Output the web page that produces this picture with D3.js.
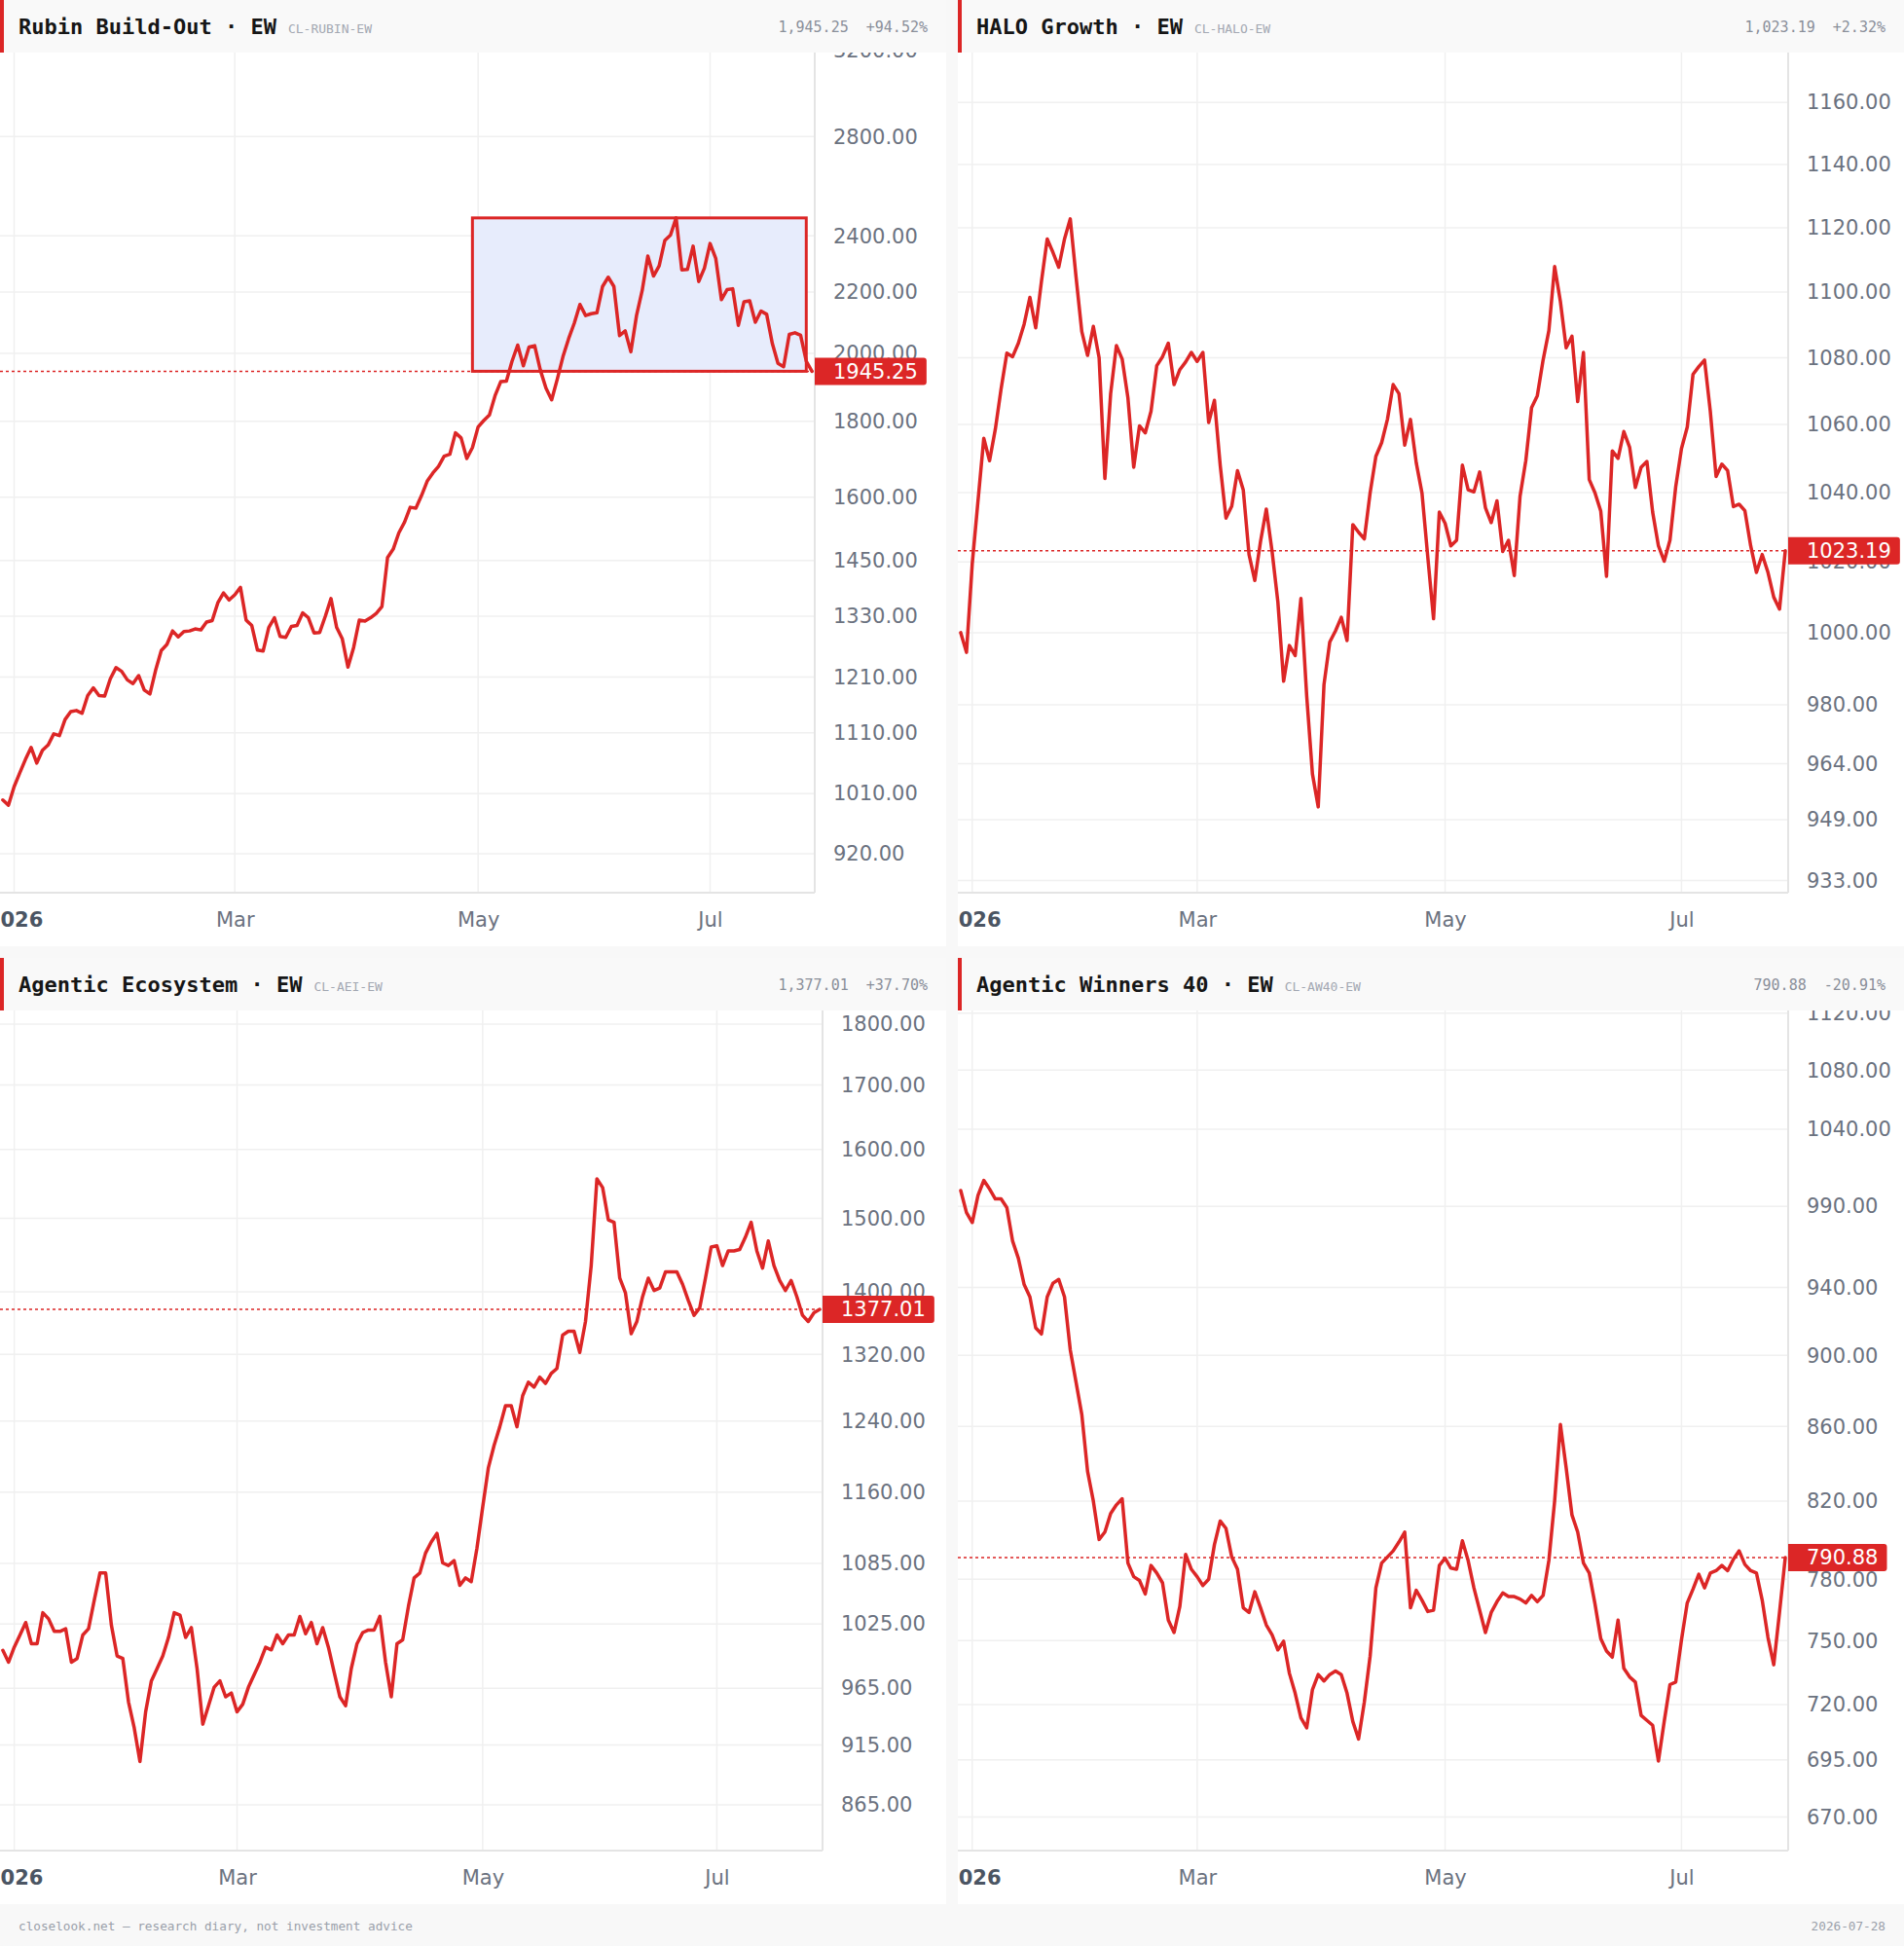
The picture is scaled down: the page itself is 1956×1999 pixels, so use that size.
<!DOCTYPE html>
<html>
<head>
<meta charset="utf-8">
<script src="https://cdn.jsdelivr.net/npm/d3@7"></script>
<style>
  body { margin: 0; background: #f8f8f8; }
  svg { display: block; }
</style>
</head>
<body>
<script>
// Month labels on the time axis and the session index where each month starts
var monthLabels = ["2026", "Mar", "May", "Jul"];
var monthIndex = [2, 41, 84, 125];

// Daily closes, one per session (Dec 30 2025 .. Jul 28 2026)
var rubinValues = [1000,992,1021,1043,1065,1085,1059,1080,1089,1108,
  1105,1133,1147,1149,1144,1176,1190,1176,1175,1207,
  1228,1221,1205,1198,1213,1186,1179,1223,1261,1273,
  1300,1288,1299,1300,1304,1302,1318,1321,1358,1379,
  1364,1375,1391,1322,1311,1262,1260,1307,1327,1289,
  1287,1309,1311,1337,1327,1296,1297,1330,1367,1307,
  1284,1229,1267,1322,1320,1327,1336,1350,1457,1476,
  1514,1539,1575,1573,1604,1640,1661,1678,1705,1710,
  1768,1754,1699,1728,1784,1802,1818,1873,1914,1916,
  1976,2026,1962,2020,2024,1949,1895,1861,1922,1990,
  2046,2096,2158,2121,2127,2130,2219,2251,2219,2056,
  2071,2005,2121,2205,2326,2255,2291,2383,2403,2468,
  2277,2278,2362,2236,2283,2372,2318,2174,2208,2211,
  2089,2167,2170,2099,2136,2125,2031,1969,1959,2060,
  2065,2057,1976,1945.25];

var haloValues = [1000,994.5,1019.5,1037.6,1055.9,1049.3,1058.6,1070.6,1081.4,1080.3,
  1084.4,1090.2,1098.4,1089.1,1103.3,1116.5,1112.3,1107.7,1116.5,1122.8,
  1104.7,1087.9,1080.7,1089.5,1080.0,1044.1,1069.2,1083.7,1079.6,1067.9,
  1047.4,1059.6,1057.5,1063.9,1077.6,1080.3,1084.4,1071.9,1076.4,1078.7,
  1081.6,1078.9,1081.6,1060.6,1067.2,1048.0,1032.6,1036.0,1046.4,1040.8,
  1022.1,1014.7,1025.9,1035.2,1023.0,1008.7,986.5,996.4,993.6,1009.6,
  982.5,961.2,952.4,985.6,997.4,1000.5,1004.3,997.8,1030.7,1028.5,
  1026.6,1039.9,1050.6,1054.6,1061.5,1071.9,1069.2,1053.9,1061.5,1048.7,
  1039.8,1021.4,1003.9,1034.3,1031.1,1024.6,1026.2,1048.0,1040.8,1040.2,
  1046.0,1035.6,1031.3,1037.6,1023.0,1026.2,1016.1,1038.9,1049.3,1065.0,
  1068.6,1079.3,1088.2,1107.9,1097.1,1083.0,1086.5,1066.8,1081.6,1043.8,
  1039.9,1034.6,1015.9,1052.2,1050.0,1057.9,1053.3,1041.5,1047.4,1049.1,
  1034.3,1024.6,1020.2,1026.2,1041.7,1052.9,1059.2,1075.0,1077.3,1079.3,
  1063.9,1044.7,1048.3,1046.4,1035.9,1036.6,1034.7,1024.6,1017.0,1022.1,
  1017.0,1010.0,1006.6,1023.19];

var aeiValues = [1000,988.9,1003,1014.5,1026.4,1006.2,1006.2,1035.9,1030,1017.9,
  1017.9,1020.4,988.9,992.3,1014.5,1020.4,1048,1075.2,1075.2,1023.9,
  994.7,992.3,952.7,929.7,900.9,943.9,971.7,983,994.7,1012.1,
  1035.9,1033.6,1012.1,1021.5,983,933,949.3,966,971.7,957.3,
  960.7,943.9,950.6,966,977.4,988.9,1002.8,1000.4,1014.5,1006.2,
  1014.5,1014.5,1032.3,1015.6,1026.4,1006.2,1021.5,1002.8,979.6,957.3,
  949.3,983,1006.2,1016.8,1019.2,1019.2,1032.3,988.9,957.3,1006.2,
  1009.8,1042,1070.3,1075.2,1095.5,1107,1116,1085.4,1082.8,1087.7,
  1062.8,1070.3,1066.5,1100.6,1143.7,1187,1212,1233.4,1258,1258,
  1233.4,1269.8,1286.1,1280.2,1292.2,1284.7,1296.7,1302.7,1344.2,1349,
  1349,1322.6,1361.5,1434.8,1556.5,1543.9,1497.8,1494.4,1418,1398.4,
  1345.9,1361.5,1393.6,1418,1401.7,1404.9,1426.3,1426.3,1426.3,1409.9,
  1388.7,1369.4,1379,1418,1460,1461.8,1434.8,1454.8,1454.8,1456.6,
  1473.7,1494.4,1454.8,1431.4,1468.4,1434.8,1414.8,1401.7,1414.8,1393.6,
  1369.4,1361.5,1372.7,1377.01];

var aw40Values = [1000,986,979.8,997,1006.5,1001,994.7,994.7,989.2,968.2,
  957.6,941.7,934.3,916,912.4,934.3,942.5,944.8,934.3,903.1,
  884.7,866.6,835.7,820,800.1,803.9,813.5,818,821.2,788.1,
  781.3,779.4,772.7,786.9,783.1,778.2,759.9,753.9,766.6,792.5,
  785,781.3,776.9,780,797.5,809.6,805.8,791.2,785,765.9,
  763.6,773.8,765.9,757.5,752.8,745.6,749.7,734.5,725.2,713.9,
  709.3,726.9,733.9,730.9,733.9,735.6,733.9,725.2,712.2,704.3,
  721.2,742.6,775.7,788.1,791.2,794.3,798.8,803.9,765.9,774.5,
  769.6,764.1,764.7,786.9,790.6,785.6,785,799.4,789.4,775.7,
  764.7,753.9,763.6,768.9,773.2,771.4,771.4,770.2,768.3,772,
  768.9,772,789.4,820,861.1,837.6,812.8,803.9,788.1,783.1,
  767.8,751,745,742.1,759.9,736.8,732.8,730.4,715,712.7,
  710.5,694.4,712.2,729.2,730.4,750.4,768.3,775.1,782.5,775.7,
  783.1,784.3,786.9,784.3,790,794.3,787.4,784.3,783.1,769.6,
  751.5,738.5,763.6,790.88];

// Price-scale tick labels of each panel
var rubinTicks = [920, 1010, 1110, 1210, 1330, 1450, 1600, 1800, 2000, 2200, 2400, 2800, 3200];
var haloTicks = [933, 949, 964, 980, 1000, 1020, 1040, 1060, 1080, 1100, 1120, 1140, 1160];
var aeiTicks = [865, 915, 965, 1025, 1085, 1160, 1240, 1320, 1400, 1500, 1600, 1700, 1800];
var aw40Ticks = [670, 695, 720, 750, 780, 820, 860, 900, 940, 990, 1040, 1080, 1120];

// Visible price range of each (log) scale
var rubinDomain = [866, 3190];
var haloDomain = [929.8, 1176.3];
var aeiDomain = [828.6, 1823];
var aw40Domain = [655.8, 1122];

// Highlighted range on the Rubin chart (session indexes)
var rubinBoxFrom = 83;
var rubinBoxTo = 142;

// Layout
var pageWidth = 1956;
var pageHeight = 1999;
var panelSize = 972;
var panelGap = 12;
var headerHeight = 54;
var plotTop = 54;
var plotBottom = 917;
var red = "#dc2626";
var labelFont = "'DejaVu Sans', sans-serif";
var monoFont = "'DejaVu Sans Mono', monospace";
var barCount = rubinValues.length;

var panels = [
  { title: "Rubin Build-Out \u00b7 EW", code: "CL-RUBIN-EW", stat: "1,945.25  +94.52%",
    values: rubinValues, ticks: rubinTicks, domain: rubinDomain, plotWidth: 837, col: 0, row: 0, box: true },
  { title: "HALO Growth \u00b7 EW", code: "CL-HALO-EW", stat: "1,023.19  +2.32%",
    values: haloValues, ticks: haloTicks, domain: haloDomain, plotWidth: 853, col: 1, row: 0 },
  { title: "Agentic Ecosystem \u00b7 EW", code: "CL-AEI-EW", stat: "1,377.01  +37.70%",
    values: aeiValues, ticks: aeiTicks, domain: aeiDomain, plotWidth: 845, col: 0, row: 1 },
  { title: "Agentic Winners 40 \u00b7 EW", code: "CL-AW40-EW", stat: "790.88  -20.91%",
    values: aw40Values, ticks: aw40Ticks, domain: aw40Domain, plotWidth: 853, col: 1, row: 1 }
];

var svg = d3.select("body")
  .append("svg")
  .attr("width", pageWidth)
  .attr("height", pageHeight);

svg.append("rect")
  .attr("width", pageWidth)
  .attr("height", pageHeight)
  .attr("fill", "#f8f8f8");

function drawPanel(p, k) {
  var g = svg.append("g")
    .attr("transform", `translate(${p.col * (panelSize + panelGap)}, ${p.row * (panelSize + panelGap)})`);

  // white chart body
  g.append("rect")
    .attr("y", headerHeight)
    .attr("width", panelSize)
    .attr("height", panelSize - headerHeight)
    .attr("fill", "#fff");

  // header strip
  g.append("rect")
    .attr("width", panelSize)
    .attr("height", headerHeight)
    .attr("fill", "#f9f9f9");
  g.append("rect")
    .attr("width", 4)
    .attr("height", headerHeight)
    .attr("fill", red);

  var title = g.append("text")
    .attr("x", 19)
    .attr("y", 35)
    .attr("font-family", monoFont)
    .attr("font-size", 22)
    .attr("font-weight", 600)
    .attr("fill", "#161616")
    .text(p.title);
  var tw = title.node().getComputedTextLength();

  g.append("text")
    .attr("x", 19 + tw + 12)
    .attr("y", 34)
    .attr("font-family", monoFont)
    .attr("font-size", 13)
    .attr("fill", "#a3a8b2")
    .text(p.code);

  g.append("text")
    .attr("x", 953)
    .attr("y", 33)
    .attr("text-anchor", "end")
    .attr("font-family", monoFont)
    .attr("font-size", 15)
    .attr("fill", "#8a8f99")
    .style("white-space", "pre")
    .text(p.stat);

  // scales
  var x = d3.scaleLinear()
    .domain([-0.5, barCount - 0.5])
    .range([0, p.plotWidth]);
  var y = d3.scaleLog()
    .domain(p.domain)
    .range([plotBottom, plotTop]);

  var plotClip = "plot-clip-" + k;
  g.append("clipPath").attr("id", plotClip)
    .append("rect")
    .attr("y", plotTop)
    .attr("width", p.plotWidth)
    .attr("height", plotBottom - plotTop);
  var axisClip = "axis-clip-" + k;
  g.append("clipPath").attr("id", axisClip)
    .append("rect")
    .attr("x", p.plotWidth)
    .attr("y", plotTop)
    .attr("width", panelSize - p.plotWidth)
    .attr("height", plotBottom - plotTop);
  var timeClip = "time-clip-" + k;
  g.append("clipPath").attr("id", timeClip)
    .append("rect")
    .attr("y", plotBottom)
    .attr("width", panelSize)
    .attr("height", panelSize - plotBottom);

  // grid
  var grid = g.append("g").attr("clip-path", `url(#${plotClip})`);
  grid.selectAll(".hgrid")
    .data(p.ticks)
    .enter()
    .append("line")
    .attr("x1", 0)
    .attr("x2", p.plotWidth)
    .attr("y1", d => y(d))
    .attr("y2", d => y(d))
    .attr("stroke", "#f0f0f0")
    .attr("stroke-width", 1.5);
  grid.selectAll(".vgrid")
    .data(monthIndex)
    .enter()
    .append("line")
    .attr("x1", d => x(d))
    .attr("x2", d => x(d))
    .attr("y1", plotTop)
    .attr("y2", plotBottom)
    .attr("stroke", "#f0f0f0")
    .attr("stroke-width", 1.5);

  var lastValue = p.values[p.values.length - 1];

  // highlighted range box
  if (p.box) {
    var boxHigh = d3.max(p.values.slice(rubinBoxFrom, rubinBoxTo + 1));
    g.append("rect")
      .attr("clip-path", `url(#${plotClip})`)
      .attr("x", x(rubinBoxFrom))
      .attr("y", y(boxHigh))
      .attr("width", x(rubinBoxTo) - x(rubinBoxFrom))
      .attr("height", y(lastValue) - y(boxHigh))
      .attr("fill", "#e7ecfc")
      .attr("stroke", red)
      .attr("stroke-width", 3);
  }

  // price line (dotted)
  g.append("line")
    .attr("x1", 0)
    .attr("x2", p.plotWidth)
    .attr("y1", y(lastValue))
    .attr("y2", y(lastValue))
    .attr("stroke", red)
    .attr("stroke-width", 1.5)
    .attr("stroke-dasharray", "3 3");

  // series line
  var line = d3.line()
    .x((d, i) => x(i))
    .y(d => y(d));
  g.append("path")
    .datum(p.values)
    .attr("clip-path", `url(#${plotClip})`)
    .attr("d", line)
    .attr("fill", "none")
    .attr("stroke", red)
    .attr("stroke-width", 3.5)
    .attr("stroke-linejoin", "round")
    .attr("stroke-linecap", "round");

  // borders of the plot
  g.append("line")
    .attr("x1", p.plotWidth).attr("x2", p.plotWidth)
    .attr("y1", plotTop).attr("y2", plotBottom)
    .attr("stroke", "#e4e4e4").attr("stroke-width", 2);
  g.append("line")
    .attr("x1", 0).attr("x2", p.plotWidth)
    .attr("y1", plotBottom).attr("y2", plotBottom)
    .attr("stroke", "#e4e4e4").attr("stroke-width", 2);

  // price axis
  var rightAxis = d3.axisRight(y)
    .tickValues(p.ticks)
    .tickFormat(d3.format(".2f"))
    .tickSize(0)
    .tickPadding(19);
  g.append("g")
    .attr("clip-path", `url(#${axisClip})`)
    .append("g")
    .attr("transform", `translate(${p.plotWidth}, 0)`)
    .call(rightAxis)
    .call(a => a.select(".domain").remove())
    .attr("font-family", labelFont)
    .attr("font-size", 21)
    .selectAll("text")
    .attr("fill", "#6b7280");

  // time axis
  var bottomAxis = d3.axisBottom(x)
    .tickValues(monthIndex)
    .tickFormat((d, i) => monthLabels[i])
    .tickSize(0)
    .tickPadding(20);
  var xAxis = g.append("g")
    .attr("clip-path", `url(#${timeClip})`)
    .append("g")
    .attr("transform", `translate(0, ${plotBottom})`)
    .call(bottomAxis)
    .call(a => a.select(".domain").remove())
    .attr("font-family", labelFont)
    .attr("font-size", 21);
  xAxis.selectAll("text")
    .attr("fill", "#6b7280")
    .filter((d, i) => i === 0)
    .attr("font-weight", "bold")
    .attr("fill", "#4b5563");

  // last value label
  var lastText = g.append("text")
    .attr("x", p.plotWidth + 19)
    .attr("y", y(lastValue))
    .attr("dy", "0.35em")
    .attr("font-family", labelFont)
    .attr("font-size", 21)
    .attr("fill", "#fff")
    .text(lastValue.toFixed(2));
  var lw = lastText.node().getComputedTextLength();
  g.insert("path", () => lastText.node())
    .attr("d", roundedRight(p.plotWidth, y(lastValue) - 14, 19 + lw + 9, 28, 3))
    .attr("fill", red);
}

// rectangle with rounded right corners
function roundedRight(x0, y0, w, h, r) {
  return `M${x0},${y0}H${x0 + w - r}Q${x0 + w},${y0} ${x0 + w},${y0 + r}` +
    `V${y0 + h - r}Q${x0 + w},${y0 + h} ${x0 + w - r},${y0 + h}H${x0}Z`;
}

panels.forEach(drawPanel);

// footer
svg.append("text")
  .attr("x", 19)
  .attr("y", 1983)
  .attr("font-family", monoFont)
  .attr("font-size", 12.7)
  .attr("fill", "#9aa0aa")
  .text("closelook.net \u2014 research diary, not investment advice");
svg.append("text")
  .attr("x", 1937)
  .attr("y", 1983)
  .attr("text-anchor", "end")
  .attr("font-family", monoFont)
  .attr("font-size", 12.7)
  .attr("fill", "#9aa0aa")
  .text("2026-07-28");
</script>
</body>
</html>
